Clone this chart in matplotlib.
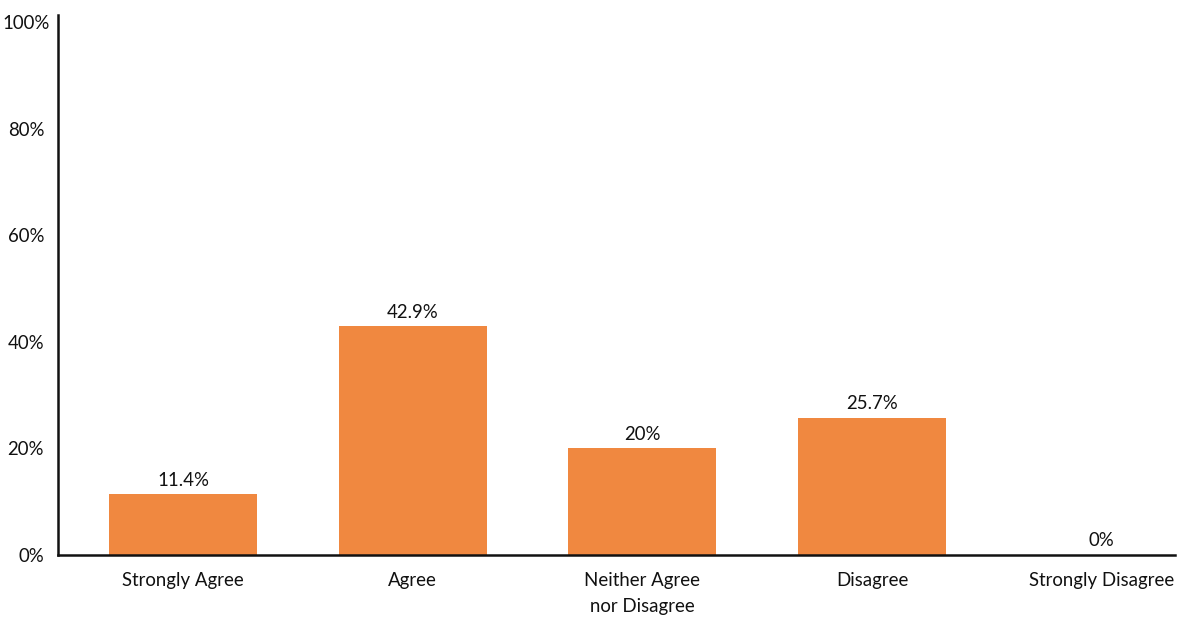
import matplotlib.pyplot as plt
from matplotlib.transforms import ScaledTranslation

# data
categories = ["Strongly Agree", "Agree", "Neither Agree\nnor Disagree", "Disagree", "Strongly Disagree"]
values = [11.4, 42.9, 20, 25.7, 0]
value_labels = ["11.4%", "42.9%", "20%", "25.7%", "0%"]
y_ticks = [0, 20, 40, 60, 80, 100]
y_tick_labels = ["0%", "20%", "40%", "60%", "80%", "100%"]

plt.rcParams['font.family'] = ['Lato', 'DejaVu Sans']

fig = plt.figure(figsize=(11.8, 6.35), dpi=100)
ax = fig.add_axes([0.0492, 0.126, 0.9466, 0.8504])

x = list(range(len(categories)))
bars = ax.bar(x, values, width=0.645, color="#F08840")

ax.bar_label(bars, labels=value_labels, padding=4, fontsize=13.4, color="#111111")

ax.set_xlim(-0.545, 4.32)
ax.set_ylim(0, 101.3)

ax.set_xticks(x)
ax.set_xticklabels(categories, fontsize=13.4, color="#111111", linespacing=1.65,
                   verticalalignment="top")
ax.set_yticks(y_ticks)
ax.set_yticklabels(y_tick_labels, fontsize=13.4, color="#111111")
ax.tick_params(axis="x", length=0, pad=12.5)
ax.tick_params(axis="y", length=0, pad=10)

# the 100% label sits a bit closer to the axis
top_label = ax.get_yticklabels()[-1]
top_label.set_transform(top_label.get_transform()
                        + ScaledTranslation(6 / 100, 0, fig.dpi_scale_trans))

for side in ["top", "right"]:
    ax.spines[side].set_visible(False)
ax.spines["left"].set_linewidth(1.8)
ax.spines["bottom"].set_linewidth(1.8)
ax.spines["left"].set_color("#111111")
ax.spines["bottom"].set_color("#111111")

fig.savefig("out.png", dpi=100)
